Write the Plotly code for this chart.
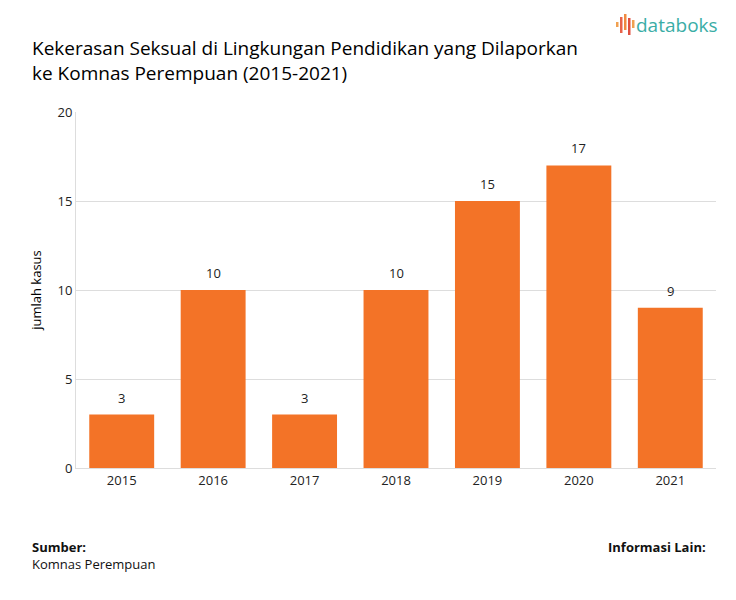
import plotly.graph_objects as go

years = ["2015", "2016", "2017", "2018", "2019", "2020", "2021"]
cases = [3, 10, 3, 10, 15, 17, 9]
y_ticks = [0, 5, 10, 15, 20]

FONT = "Open Sans, Noto Sans, sans-serif"
W, H = 736, 600
L, R, T, B = 76, 20, 112, 132

fig = go.Figure(go.Bar(
    x=years, y=cases, marker_color="#F37327", marker_line_width=0,
))

# value labels (category index positions on the category axis)
for i, v in enumerate(cases):
    fig.add_annotation(x=i, y=v, text=str(v), showarrow=False, yanchor="bottom",
                       yshift=6, font=dict(size=13, color="#222", family=FONT))

fig.update_layout(
    width=W, height=H, margin=dict(l=L, r=R, t=T, b=B),
    paper_bgcolor="white", plot_bgcolor="white",
    bargap=0.29, showlegend=False,
    font=dict(family=FONT, color="#222"),
    xaxis=dict(type="category", range=[-0.5, len(years) - 0.5], showgrid=False,
               showline=True, linecolor="#dddddd", linewidth=1,
               ticks="", tickfont=dict(size=13, color="#222")),
    yaxis=dict(range=[0, 20], tickvals=y_ticks, showgrid=True, gridcolor="#dddddd",
               zeroline=False, showline=True, linecolor="#dddddd", ticks="",
               tickfont=dict(size=13, color="#222"),
               title=dict(text="jumlah kasus", font=dict(size=13, color="#000"), standoff=12)),
)

pw = W - L - R
ph = H - T - B
def px(x):
    return (x - L) / pw
def py(y):
    return (H - B - y) / ph

# Title
fig.add_annotation(xref="paper", yref="paper", x=px(30), y=py(33),
                   xanchor="left", yanchor="top", align="left", showarrow=False,
                   text="Kekerasan Seksual di Lingkungan Pendidikan yang Dilaporkan<br>ke Komnas Perempuan (2015-2021)",
                   font=dict(size=19, color="#000", family=FONT))

# Footer
fig.add_annotation(xref="paper", yref="paper", x=px(30), y=py(536), xanchor="left", yanchor="top",
                   showarrow=False, align="left",
                   text="<b>Sumber:</b><br>Komnas Perempuan",
                   font=dict(size=13, color="#111", family=FONT))
fig.add_annotation(xref="paper", yref="paper", x=px(708), y=py(536), xanchor="right", yanchor="top",
                   showarrow=False, text="<b>Informasi Lain:</b>",
                   font=dict(size=13, color="#111", family=FONT))

# Logo
fig.add_annotation(xref="paper", yref="paper", x=px(634), y=py(25), xanchor="left", yanchor="middle",
                   showarrow=False, text="databoks",
                   font=dict(size=19, color="#3AADA6", family=FONT))
icon = [(616, 22, 27, "#F0A050"), (620, 17, 33, "#E8634A"), (624, 14, 30, "#F08A40"),
        (628, 18, 35, "#E05040"), (632, 20, 28, "#F0A050")]
for x0, y0, y1, c in icon:
    fig.add_shape(type="rect", xref="paper", yref="paper",
                  x0=px(x0), x1=px(x0 + 2.5), y0=py(y1), y1=py(y0),
                  fillcolor=c, line_width=0, layer="above")

fig.write_html("out.html")
